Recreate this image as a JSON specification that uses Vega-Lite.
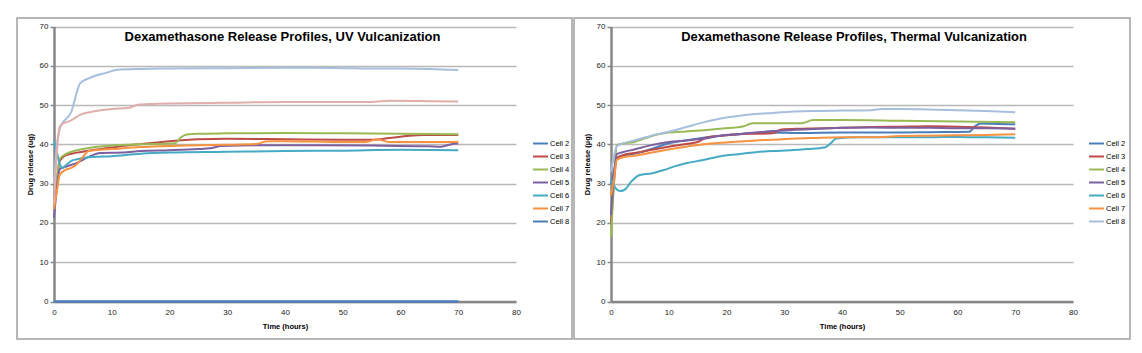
{
 "$schema": "https://vega.github.io/schema/vega-lite/v6.json",
 "padding": {"left": 16, "top": 17, "right": 0, "bottom": 0},
 "background": "white",
 "spacing": 0,
 "config": {
  "font": "Liberation Sans",
  "view": {"stroke": "#a0a0a0", "strokeWidth": 1.5},
  "axis": {"labelFont": "Liberation Sans", "titleFont": "Liberation Sans", "labelColor": "#222", "titleColor": "#000", "labelFontSize": 8, "titleFontSize": 7.5, "titleFontWeight": "bold", "domainColor": "#878787", "domainWidth": 2.5, "tickColor": "#878787", "labelFlush": false},
  "legend": {"labelFont": "Liberation Sans"}
 },
 "datasets": {
  "uv": [
   {"s":"Cell 2","t":0,"v":0},{"s":"Cell 2","t":10,"v":0},{"s":"Cell 2","t":20,"v":0},{"s":"Cell 2","t":30,"v":0},{"s":"Cell 2","t":40,"v":0},{"s":"Cell 2","t":50,"v":0},{"s":"Cell 2","t":60,"v":0},{"s":"Cell 2","t":70,"v":0},
   {"s":"Cell 3","t":0,"v":26},{"s":"Cell 3","t":0.5,"v":31},{"s":"Cell 3","t":1,"v":35.8},{"s":"Cell 3","t":2,"v":37.2},{"s":"Cell 3","t":4,"v":37.9},{"s":"Cell 3","t":7,"v":38.6},{"s":"Cell 3","t":10,"v":39.2},{"s":"Cell 3","t":13,"v":39.8},{"s":"Cell 3","t":16,"v":40.2},{"s":"Cell 3","t":18,"v":40.5},{"s":"Cell 3","t":20,"v":40.8},{"s":"Cell 3","t":25,"v":41.3},{"s":"Cell 3","t":30,"v":41.4},{"s":"Cell 3","t":40,"v":41.3},{"s":"Cell 3","t":50,"v":41.2},{"s":"Cell 3","t":55,"v":41.2},{"s":"Cell 3","t":58,"v":41.6},{"s":"Cell 3","t":61,"v":42.1},{"s":"Cell 3","t":64,"v":42.4},{"s":"Cell 3","t":70,"v":42.4},
   {"s":"Cell 4","t":0,"v":25},{"s":"Cell 4","t":0.5,"v":31},{"s":"Cell 4","t":1,"v":36.3},{"s":"Cell 4","t":2,"v":37.5},{"s":"Cell 4","t":4,"v":38.5},{"s":"Cell 4","t":7,"v":39.3},{"s":"Cell 4","t":10,"v":39.7},{"s":"Cell 4","t":15,"v":40},{"s":"Cell 4","t":20,"v":40.2},{"s":"Cell 4","t":21,"v":40.3},{"s":"Cell 4","t":22,"v":41.8},{"s":"Cell 4","t":23,"v":42.5},{"s":"Cell 4","t":25,"v":42.7},{"s":"Cell 4","t":30,"v":42.8},{"s":"Cell 4","t":40,"v":42.9},{"s":"Cell 4","t":50,"v":42.8},{"s":"Cell 4","t":60,"v":42.7},{"s":"Cell 4","t":70,"v":42.6},
   {"s":"Cell 5","t":0,"v":21.3},{"s":"Cell 5","t":0.5,"v":29},{"s":"Cell 5","t":1,"v":33.7},{"s":"Cell 5","t":2,"v":34.3},{"s":"Cell 5","t":4,"v":35.3},{"s":"Cell 5","t":6,"v":36.8},{"s":"Cell 5","t":8,"v":37.8},{"s":"Cell 5","t":12,"v":37.9},{"s":"Cell 5","t":15,"v":38.3},{"s":"Cell 5","t":20,"v":38.5},{"s":"Cell 5","t":25,"v":38.8},{"s":"Cell 5","t":27,"v":39},{"s":"Cell 5","t":29,"v":39.6},{"s":"Cell 5","t":35,"v":39.8},{"s":"Cell 5","t":45,"v":39.8},{"s":"Cell 5","t":55,"v":39.7},{"s":"Cell 5","t":65,"v":39.5},{"s":"Cell 5","t":67,"v":39.4},{"s":"Cell 5","t":69,"v":40.1},{"s":"Cell 5","t":70,"v":40.2},
   {"s":"Cell 6","t":0,"v":40.8},{"s":"Cell 6","t":0.5,"v":38},{"s":"Cell 6","t":1,"v":35},{"s":"Cell 6","t":1.5,"v":34},{"s":"Cell 6","t":2,"v":34.6},{"s":"Cell 6","t":3,"v":35.8},{"s":"Cell 6","t":4,"v":36.2},{"s":"Cell 6","t":6,"v":36.7},{"s":"Cell 6","t":10,"v":37},{"s":"Cell 6","t":15,"v":37.6},{"s":"Cell 6","t":20,"v":37.9},{"s":"Cell 6","t":30,"v":38.1},{"s":"Cell 6","t":40,"v":38.3},{"s":"Cell 6","t":50,"v":38.4},{"s":"Cell 6","t":60,"v":38.6},{"s":"Cell 6","t":70,"v":38.5},
   {"s":"Cell 7","t":0,"v":23.5},{"s":"Cell 7","t":0.5,"v":28},{"s":"Cell 7","t":1,"v":32.3},{"s":"Cell 7","t":2,"v":33.5},{"s":"Cell 7","t":3,"v":34},{"s":"Cell 7","t":4,"v":35},{"s":"Cell 7","t":5,"v":36.8},{"s":"Cell 7","t":6,"v":38.3},{"s":"Cell 7","t":8,"v":38.6},{"s":"Cell 7","t":10,"v":38.8},{"s":"Cell 7","t":15,"v":39.3},{"s":"Cell 7","t":20,"v":39.6},{"s":"Cell 7","t":25,"v":39.8},{"s":"Cell 7","t":30,"v":39.9},{"s":"Cell 7","t":35,"v":40.1},{"s":"Cell 7","t":37,"v":40.8},{"s":"Cell 7","t":40,"v":40.8},{"s":"Cell 7","t":45,"v":40.7},{"s":"Cell 7","t":50,"v":40.6},{"s":"Cell 7","t":54,"v":40.6},{"s":"Cell 7","t":56,"v":41.3},{"s":"Cell 7","t":58,"v":40.6},{"s":"Cell 7","t":65,"v":40.6},{"s":"Cell 7","t":70,"v":40.6},
   {"s":"Cell 8","t":0,"v":0},{"s":"Cell 8","t":10,"v":0},{"s":"Cell 8","t":20,"v":0},{"s":"Cell 8","t":30,"v":0},{"s":"Cell 8","t":40,"v":0},{"s":"Cell 8","t":50,"v":0},{"s":"Cell 8","t":60,"v":0},{"s":"Cell 8","t":70,"v":0},
   {"s":"Series 9","t":0,"v":30},{"s":"Series 9","t":0.5,"v":40},{"s":"Series 9","t":1,"v":44},{"s":"Series 9","t":1.5,"v":45.5},{"s":"Series 9","t":3,"v":48.3},{"s":"Series 9","t":4,"v":53.5},{"s":"Series 9","t":4.5,"v":55.5},{"s":"Series 9","t":6,"v":56.8},{"s":"Series 9","t":7,"v":57.4},{"s":"Series 9","t":9,"v":58.2},{"s":"Series 9","t":11,"v":59},{"s":"Series 9","t":15,"v":59.2},{"s":"Series 9","t":20,"v":59.3},{"s":"Series 9","t":30,"v":59.4},{"s":"Series 9","t":40,"v":59.5},{"s":"Series 9","t":45,"v":59.5},{"s":"Series 9","t":50,"v":59.4},{"s":"Series 9","t":55,"v":59.3},{"s":"Series 9","t":60,"v":59.3},{"s":"Series 9","t":65,"v":59.2},{"s":"Series 9","t":70,"v":58.9},
   {"s":"Series 10","t":0,"v":25},{"s":"Series 10","t":0.5,"v":38},{"s":"Series 10","t":1,"v":44.5},{"s":"Series 10","t":1.6,"v":45.3},{"s":"Series 10","t":2.8,"v":46},{"s":"Series 10","t":4.8,"v":47.7},{"s":"Series 10","t":7,"v":48.4},{"s":"Series 10","t":10,"v":49},{"s":"Series 10","t":13,"v":49.3},{"s":"Series 10","t":14.5,"v":50.1},{"s":"Series 10","t":17,"v":50.3},{"s":"Series 10","t":20,"v":50.4},{"s":"Series 10","t":30,"v":50.6},{"s":"Series 10","t":40,"v":50.8},{"s":"Series 10","t":50,"v":50.8},{"s":"Series 10","t":55,"v":50.8},{"s":"Series 10","t":58,"v":51.1},{"s":"Series 10","t":65,"v":51},{"s":"Series 10","t":70,"v":50.9}
  ],
  "thermal": [
   {"s":"Cell 2","t":0,"v":30},{"s":"Cell 2","t":0.5,"v":33},{"s":"Cell 2","t":1,"v":36.5},{"s":"Cell 2","t":2,"v":37.2},{"s":"Cell 2","t":4,"v":37.6},{"s":"Cell 2","t":7,"v":38.8},{"s":"Cell 2","t":10,"v":40.3},{"s":"Cell 2","t":13,"v":41},{"s":"Cell 2","t":16,"v":41.7},{"s":"Cell 2","t":19,"v":42.2},{"s":"Cell 2","t":22,"v":42.6},{"s":"Cell 2","t":27,"v":43},{"s":"Cell 2","t":33,"v":42.9},{"s":"Cell 2","t":40,"v":43},{"s":"Cell 2","t":50,"v":43},{"s":"Cell 2","t":55,"v":43.1},{"s":"Cell 2","t":62,"v":43.2},{"s":"Cell 2","t":63,"v":44.6},{"s":"Cell 2","t":64,"v":45.3},{"s":"Cell 2","t":67,"v":45.2},{"s":"Cell 2","t":70,"v":45.1},
   {"s":"Cell 3","t":0,"v":20},{"s":"Cell 3","t":0.5,"v":30},{"s":"Cell 3","t":1,"v":36.5},{"s":"Cell 3","t":2,"v":37.2},{"s":"Cell 3","t":4,"v":37.8},{"s":"Cell 3","t":7,"v":38.6},{"s":"Cell 3","t":10,"v":39.4},{"s":"Cell 3","t":13,"v":40.1},{"s":"Cell 3","t":15,"v":40.6},{"s":"Cell 3","t":16.5,"v":41.7},{"s":"Cell 3","t":19,"v":42.2},{"s":"Cell 3","t":22,"v":42.6},{"s":"Cell 3","t":25,"v":42.7},{"s":"Cell 3","t":28,"v":42.8},{"s":"Cell 3","t":29.5,"v":43.8},{"s":"Cell 3","t":33,"v":44},{"s":"Cell 3","t":40,"v":44.2},{"s":"Cell 3","t":45,"v":44.4},{"s":"Cell 3","t":50,"v":44.5},{"s":"Cell 3","t":55,"v":44.6},{"s":"Cell 3","t":60,"v":44.5},{"s":"Cell 3","t":65,"v":44.3},{"s":"Cell 3","t":70,"v":44},
   {"s":"Cell 4","t":0,"v":16.5},{"s":"Cell 4","t":0.5,"v":30},{"s":"Cell 4","t":1,"v":39.8},{"s":"Cell 4","t":2,"v":40.2},{"s":"Cell 4","t":4,"v":40.6},{"s":"Cell 4","t":6,"v":41.6},{"s":"Cell 4","t":8,"v":42.5},{"s":"Cell 4","t":10,"v":43},{"s":"Cell 4","t":13,"v":43.3},{"s":"Cell 4","t":16,"v":43.6},{"s":"Cell 4","t":19,"v":44},{"s":"Cell 4","t":21,"v":44.2},{"s":"Cell 4","t":23,"v":44.6},{"s":"Cell 4","t":24.5,"v":45.4},{"s":"Cell 4","t":28,"v":45.4},{"s":"Cell 4","t":33,"v":45.4},{"s":"Cell 4","t":35,"v":46.2},{"s":"Cell 4","t":40,"v":46.2},{"s":"Cell 4","t":50,"v":46},{"s":"Cell 4","t":60,"v":45.8},{"s":"Cell 4","t":70,"v":45.6},
   {"s":"Cell 5","t":0,"v":22},{"s":"Cell 5","t":0.5,"v":32},{"s":"Cell 5","t":1,"v":37.5},{"s":"Cell 5","t":2,"v":38},{"s":"Cell 5","t":4,"v":38.7},{"s":"Cell 5","t":7,"v":39.8},{"s":"Cell 5","t":10,"v":40.6},{"s":"Cell 5","t":13,"v":41},{"s":"Cell 5","t":16,"v":41.4},{"s":"Cell 5","t":19,"v":42.2},{"s":"Cell 5","t":22,"v":42.6},{"s":"Cell 5","t":25,"v":43},{"s":"Cell 5","t":28,"v":43.4},{"s":"Cell 5","t":32,"v":43.7},{"s":"Cell 5","t":36,"v":44},{"s":"Cell 5","t":40,"v":44.2},{"s":"Cell 5","t":45,"v":44.3},{"s":"Cell 5","t":50,"v":44.2},{"s":"Cell 5","t":55,"v":44.2},{"s":"Cell 5","t":60,"v":44.1},{"s":"Cell 5","t":65,"v":44.1},{"s":"Cell 5","t":70,"v":44},
   {"s":"Cell 6","t":0,"v":31},{"s":"Cell 6","t":0.5,"v":29.5},{"s":"Cell 6","t":1,"v":28.5},{"s":"Cell 6","t":1.6,"v":28.1},{"s":"Cell 6","t":2.5,"v":28.6},{"s":"Cell 6","t":3.5,"v":30.5},{"s":"Cell 6","t":5,"v":32.2},{"s":"Cell 6","t":7,"v":32.6},{"s":"Cell 6","t":9,"v":33.4},{"s":"Cell 6","t":11,"v":34.4},{"s":"Cell 6","t":13,"v":35.2},{"s":"Cell 6","t":16,"v":36},{"s":"Cell 6","t":19,"v":37},{"s":"Cell 6","t":22,"v":37.5},{"s":"Cell 6","t":25,"v":38},{"s":"Cell 6","t":28,"v":38.3},{"s":"Cell 6","t":31,"v":38.5},{"s":"Cell 6","t":34,"v":38.8},{"s":"Cell 6","t":37,"v":39.2},{"s":"Cell 6","t":38,"v":40.2},{"s":"Cell 6","t":39,"v":41.5},{"s":"Cell 6","t":43,"v":41.8},{"s":"Cell 6","t":50,"v":41.8},{"s":"Cell 6","t":55,"v":41.8},{"s":"Cell 6","t":60,"v":41.9},{"s":"Cell 6","t":65,"v":41.8},{"s":"Cell 6","t":70,"v":41.7},
   {"s":"Cell 7","t":0,"v":27},{"s":"Cell 7","t":0.5,"v":31},{"s":"Cell 7","t":1,"v":36},{"s":"Cell 7","t":2,"v":36.7},{"s":"Cell 7","t":4,"v":37.1},{"s":"Cell 7","t":7,"v":37.9},{"s":"Cell 7","t":10,"v":38.7},{"s":"Cell 7","t":13,"v":39.4},{"s":"Cell 7","t":16,"v":40},{"s":"Cell 7","t":19,"v":40.4},{"s":"Cell 7","t":22,"v":40.7},{"s":"Cell 7","t":25,"v":41},{"s":"Cell 7","t":28,"v":41.2},{"s":"Cell 7","t":31,"v":41.4},{"s":"Cell 7","t":35,"v":41.6},{"s":"Cell 7","t":40,"v":41.8},{"s":"Cell 7","t":45,"v":41.8},{"s":"Cell 7","t":50,"v":42.1},{"s":"Cell 7","t":55,"v":42.2},{"s":"Cell 7","t":60,"v":42.3},{"s":"Cell 7","t":65,"v":42.4},{"s":"Cell 7","t":70,"v":42.6},
   {"s":"Cell 8","t":0,"v":33},{"s":"Cell 8","t":0.5,"v":37},{"s":"Cell 8","t":1,"v":39.5},{"s":"Cell 8","t":2,"v":40.2},{"s":"Cell 8","t":4,"v":41},{"s":"Cell 8","t":6,"v":41.8},{"s":"Cell 8","t":8,"v":42.6},{"s":"Cell 8","t":10,"v":43.2},{"s":"Cell 8","t":13,"v":44.4},{"s":"Cell 8","t":16,"v":45.6},{"s":"Cell 8","t":19,"v":46.6},{"s":"Cell 8","t":22,"v":47.2},{"s":"Cell 8","t":25,"v":47.7},{"s":"Cell 8","t":28,"v":48},{"s":"Cell 8","t":31,"v":48.3},{"s":"Cell 8","t":35,"v":48.5},{"s":"Cell 8","t":40,"v":48.6},{"s":"Cell 8","t":45,"v":48.7},{"s":"Cell 8","t":47,"v":49},{"s":"Cell 8","t":50,"v":49},{"s":"Cell 8","t":55,"v":48.9},{"s":"Cell 8","t":60,"v":48.7},{"s":"Cell 8","t":65,"v":48.5},{"s":"Cell 8","t":70,"v":48.2}
  ]
 },
 "hconcat": [
  {
   "width": 555, "height": 321,
   "title": {"text": "Dexamethasone Release Profiles, UV Vulcanization", "anchor": "middle", "frame": "group", "offset": -36, "dx": -12, "baseline": "alphabetic", "fontSize": 13, "fontWeight": "bold", "color": "#000", "font": "Liberation Sans"},
   "data": {"name": "uv"},
   "mark": {"type": "line", "interpolate": "monotone", "strokeWidth": 2},
   "encoding": {
    "x": {"field": "t", "type": "quantitative", "scale": {"domain": [0, 80], "range": [37, 499], "nice": false, "zero": false},
          "axis": {"values": [0,10,20,30,40,50,60,70,80], "title": "Time (hours)", "grid": false, "ticks": false, "labelFlush": false, "offset": -37.5, "labelPadding": 7, "titlePadding": 6}},
    "y": {"field": "v", "type": "quantitative", "scale": {"domain": [0, 70], "range": [283.5, 8.5], "nice": false},
          "axis": {"values": [0,10,20,30,40,50,60,70], "title": "Drug release (ug)", "grid": true, "gridColor": "#b8b8b8", "gridWidth": 1.5, "tickSize": 4, "tickWidth": 1.5, "labelPadding": 2, "offset": -37, "titlePadding": 5}},
    "color": {"field": "s", "type": "nominal",
      "scale": {"domain": ["Cell 2","Cell 3","Cell 4","Cell 5","Cell 6","Cell 7","Cell 8","Series 9","Series 10"], "range": ["#4A7EBB","#BE4B48","#98B954","#7D60A0","#46AAC5","#F69240","#4A7EBB","#A7BFDE","#E0AEAC"]},
      "legend": {"orient": "none", "legendX": 515, "legendY": 117, "title": null, "values": ["Cell 2","Cell 3","Cell 4","Cell 5","Cell 6","Cell 7","Cell 8"], "symbolType": "stroke", "symbolSize": 225, "symbolStrokeWidth": 2, "labelFontSize": 7.5, "labelColor": "#000", "rowPadding": -3, "labelOffset": 1, "padding": 0}}
   }
  },
  {
   "width": 556, "height": 321,
   "title": {"text": "Dexamethasone Release Profiles, Thermal Vulcanization", "anchor": "middle", "frame": "group", "offset": -36, "dx": 2, "baseline": "alphabetic", "fontSize": 12.9, "fontWeight": "bold", "color": "#000", "font": "Liberation Sans"},
   "data": {"name": "thermal"},
   "mark": {"type": "line", "interpolate": "monotone", "strokeWidth": 2},
   "encoding": {
    "x": {"field": "t", "type": "quantitative", "scale": {"domain": [0, 80], "range": [37, 499], "nice": false, "zero": false},
          "axis": {"values": [0,10,20,30,40,50,60,70,80], "title": "Time (hours)", "grid": false, "ticks": false, "labelFlush": false, "offset": -37.5, "labelPadding": 7, "titlePadding": 6}},
    "y": {"field": "v", "type": "quantitative", "scale": {"domain": [0, 70], "range": [283.5, 8.5], "nice": false},
          "axis": {"values": [0,10,20,30,40,50,60,70], "title": "Drug release (µg)", "grid": true, "gridColor": "#b8b8b8", "gridWidth": 1.5, "tickSize": 4, "tickWidth": 1.5, "labelPadding": 2, "offset": -37, "titlePadding": 5}},
    "color": {"field": "s", "type": "nominal",
      "scale": {"domain": ["Cell 2","Cell 3","Cell 4","Cell 5","Cell 6","Cell 7","Cell 8"], "range": ["#4A7EBB","#BE4B48","#98B954","#7D60A0","#46AAC5","#F69240","#A7BFDE"]},
      "legend": {"orient": "none", "legendX": 514, "legendY": 117, "title": null, "symbolType": "stroke", "symbolSize": 225, "symbolStrokeWidth": 2, "labelFontSize": 7.5, "labelColor": "#000", "rowPadding": -3, "labelOffset": 1, "padding": 0}}
   }
  }
 ],
 "resolve": {"scale": {"color": "independent", "x": "independent", "y": "independent"}, "legend": {"color": "independent"}}
}
